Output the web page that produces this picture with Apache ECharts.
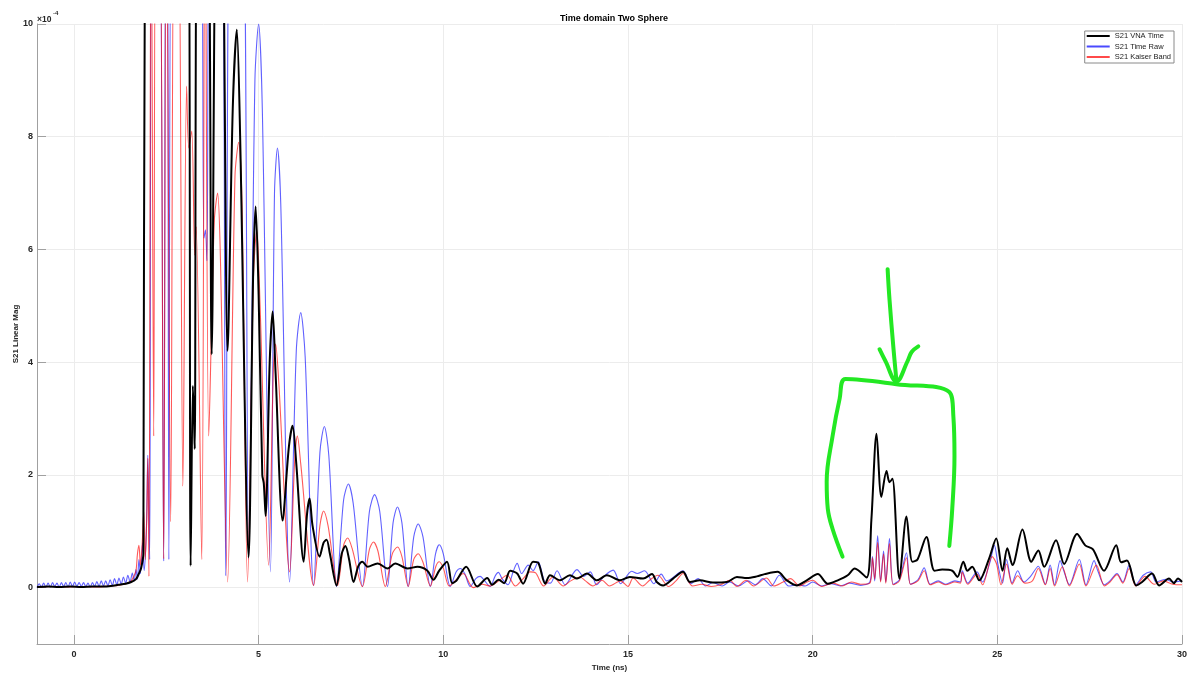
<!DOCTYPE html>
<html>
<head>
<meta charset="utf-8">
<script src="https://cdn.jsdelivr.net/npm/echarts@6/dist/echarts.min.js"></script>
<style>html,body{margin:0;padding:0;background:#fff}#c{width:1200px;height:682px}</style>
</head>
<body>
<div id="c"></div>
<script>
// values in units of 1e-4
const xTicks = [0, 5, 10, 15, 20, 25, 30];
const yTicks = [0, 2, 4, 6, 8, 10];
const seriesNames = ['S21 VNA Time', 'S21 Time Raw', 'S21 Kaiser Band'];

const vnaT = [-1.0,-0.7,-0.4,-0.1,0.2,0.5,0.8,1.0,1.2,1.4,1.55,1.68,1.76,1.82,1.88,1.93,3.08,3.16,3.22,3.25,3.27,3.36,3.60,3.73,3.87,3.99,4.16,4.30,4.41,4.50,4.73,4.85,4.92,5.0,5.10,5.14,5.19,5.30,5.38,5.46,5.65,5.82,5.92,6.02,6.22,6.31,6.38,6.46,6.65,6.76,6.84,6.93,7.11,7.25,7.35,7.45,7.57,7.70,7.81,7.95,8.22,8.49,8.70,9.03,9.30,9.57,9.73,9.89,10.10,10.24,10.35,10.62,10.92,11.19,11.32,11.50,11.65,11.81,12.00,12.16,12.43,12.57,12.76,12.89,13.16,13.43,13.62,13.89,14.16,14.43,14.78,15.05,15.41,15.65,15.78,15.95,16.22,16.49,16.68,16.95,17.30,17.68,17.95,18.22,18.49,18.70,19.05,19.30,19.57,19.84,20.14,20.41,20.68,20.95,21.14,21.46,21.59,21.73,21.86,22.00,22.08,22.16,22.35,22.54,22.70,22.84,23.08,23.30,23.51,23.78,23.92,24.08,24.19,24.32,24.51,24.78,24.97,25.14,25.27,25.41,25.68,25.92,26.11,26.27,26.59,26.81,27.16,27.38,27.59,27.89,28.22,28.35,28.51,28.76,28.92,29.19,29.38,29.65,29.78,29.89,30.00];
const vnaV = [0.01,0.02,0.01,0.02,0.01,0.02,0.02,0.03,0.05,0.07,0.10,0.15,0.25,0.35,0.6,13,13,0.39,3.58,3.0,2.46,13,13,4.14,13,13,4.2,8.5,9.9,8.0,0.54,5.5,6.76,5.2,2.0,1.85,1.27,4.0,4.9,3.8,1.19,2.5,2.87,2.2,0.46,1.3,1.58,1.1,0.55,0.8,0.85,0.6,0.04,0.6,0.74,0.5,0.1,0.38,0.46,0.37,0.43,0.34,0.43,0.34,0.37,0.30,0.14,0.30,0.46,0.08,0.12,0.37,0.02,0.17,0.05,0.14,0.08,0.30,0.25,0.07,0.46,0.44,0.07,0.22,0.13,0.22,0.16,0.25,0.13,0.22,0.13,0.19,0.16,0.24,0.10,0.04,0.16,0.28,0.10,0.13,0.09,0.10,0.19,0.17,0.20,0.24,0.28,0.13,0.04,0.13,0.24,0.07,0.13,0.22,0.34,0.18,1.2,2.73,1.61,2.07,1.87,1.93,0.16,1.26,0.46,0.50,0.90,0.30,0.32,0.30,0.19,0.46,0.30,0.37,0.13,0.52,0.87,0.30,0.70,0.40,1.03,0.46,0.66,0.37,0.84,0.42,0.95,0.75,0.68,0.30,0.75,0.45,0.48,0.04,0.10,0.25,0.04,0.16,0.08,0.16,0.10];

const rawT = [-1.00,-0.94,-0.88,-0.82,-0.76,-0.70,-0.64,-0.58,-0.52,-0.46,-0.40,-0.34,-0.28,-0.22,-0.16,-0.10,-0.04,0.02,0.08,0.14,0.20,0.26,0.32,0.38,0.44,0.50,0.56,0.62,0.68,0.74,0.80,0.86,0.92,0.98,1.04,1.10,1.16,1.22,1.28,1.34,1.40,1.46,1.52,1.58,1.63,1.68,1.72,1.76,1.80,1.86,1.90,1.96,2.00,2.05,2.12,2.30,2.43,2.49,2.53,2.57,2.66,3.40,3.52,3.56,3.60,3.70,3.98,4.11,4.25,4.55,4.73,4.90,5.00,5.10,5.32,5.43,5.51,5.60,5.84,6.02,6.14,6.26,6.49,6.66,6.78,6.90,7.11,7.30,7.43,7.56,7.81,8.00,8.14,8.28,8.49,8.64,8.76,8.88,9.05,9.20,9.32,9.45,9.65,9.79,9.89,10.00,10.19,10.35,10.46,10.58,10.73,10.88,11.00,11.12,11.27,11.40,11.49,11.60,11.75,11.90,12.00,12.12,12.30,12.43,12.57,12.75,12.90,13.08,13.30,13.62,13.80,13.98,14.15,14.35,14.60,14.80,15.10,15.25,15.45,15.70,15.90,16.05,16.49,16.70,16.90,17.10,17.30,17.55,17.75,18.00,18.25,18.45,18.65,18.88,19.10,19.35,19.60,19.80,20.00,20.25,20.50,20.75,21.00,21.30,21.55,21.62,21.68,21.76,21.84,21.92,21.98,22.08,22.18,22.35,22.54,22.65,22.85,23.02,23.18,23.40,23.60,23.85,24.00,24.05,24.20,24.45,24.60,24.80,24.92,25.02,25.14,25.25,25.40,25.55,25.72,25.90,26.11,26.30,26.43,26.55,26.70,26.80,26.95,27.22,27.40,27.62,27.72,27.90,28.05,28.24,28.40,28.57,28.75,28.95,29.15,29.30,29.55,29.75,30.00];
const rawV = [0.00,0.07,0.01,0.08,0.01,0.08,0.01,0.09,0.02,0.08,0.01,0.09,0.02,0.09,0.01,0.10,0.02,0.10,0.02,0.09,0.02,0.09,0.02,0.08,0.01,0.09,0.02,0.11,0.02,0.12,0.03,0.12,0.03,0.14,0.04,0.16,0.05,0.17,0.06,0.19,0.08,0.22,0.10,0.26,0.12,0.32,0.15,0.5,0.25,0.8,0.3,1.0,2.35,0.5,13,13,0.47,13,13,0.5,13,13,6.2,6.35,5.8,13,13,0.21,13,13,0.5,9.0,10.0,8.5,0.28,7.0,7.8,6.8,0.10,4.2,4.88,4.1,0.04,2.4,2.86,2.35,0.02,1.55,1.84,1.5,0.02,1.35,1.65,1.35,0.02,1.15,1.43,1.15,0.02,0.9,1.13,0.9,0.02,0.6,0.76,0.6,0.02,0.28,0.34,0.25,0.02,0.16,0.20,0.12,0.02,0.20,0.27,0.15,0.05,0.30,0.43,0.25,0.40,0.30,0.46,0.10,0.08,0.30,0.05,0.32,0.20,0.28,0.05,0.20,0.31,0.07,0.29,0.25,0.30,0.07,0.24,0.12,0.30,0.07,0.16,0.03,0.09,0.03,0.10,0.03,0.12,0.05,0.16,0.03,0.22,0.03,0.05,0.03,0.10,0.03,0.07,0.03,0.08,0.04,0.10,0.55,0.12,0.92,0.12,0.65,0.10,0.87,0.06,0.14,0.62,0.06,0.14,0.35,0.06,0.12,0.06,0.12,0.10,0.30,0.08,0.28,0.10,0.45,0.75,0.40,0.08,0.50,0.08,0.30,0.10,0.20,0.38,0.06,0.40,0.05,0.48,0.30,0.05,0.50,0.05,0.48,0.30,0.05,0.12,0.25,0.10,0.40,0.05,0.22,0.28,0.10,0.15,0.10,0.12];

const kaiT = [-1.0,-0.6,-0.2,0.2,0.6,1.0,1.2,1.35,1.45,1.55,1.62,1.68,1.72,1.76,1.80,1.85,1.89,1.93,1.97,2.00,2.03,2.09,2.16,2.22,2.32,2.43,2.50,2.62,2.72,2.82,2.95,3.05,3.11,3.19,3.27,3.31,3.46,3.55,3.65,3.80,3.89,3.96,4.16,4.36,4.46,4.55,4.70,4.86,4.95,5.04,5.27,5.40,5.46,5.55,5.84,5.98,6.05,6.14,6.49,6.66,6.76,6.88,7.14,7.30,7.41,7.53,7.81,8.00,8.11,8.23,8.43,8.62,8.76,8.88,9.05,9.20,9.32,9.45,9.65,9.80,9.89,10.00,10.16,10.38,10.54,10.81,11.05,11.27,11.50,11.73,11.95,12.15,12.35,12.50,12.72,12.97,13.25,13.45,13.70,13.85,14.05,14.30,14.50,14.80,15.00,15.14,15.40,15.60,15.81,16.10,16.30,16.49,16.75,17.00,17.25,17.50,17.76,17.95,18.20,18.40,18.75,18.95,19.20,19.40,19.65,19.85,20.00,20.25,20.55,20.80,21.05,21.30,21.55,21.62,21.68,21.76,21.84,21.92,21.98,22.08,22.18,22.35,22.54,22.65,22.85,23.02,23.18,23.40,23.60,23.85,24.00,24.05,24.20,24.45,24.60,24.86,24.98,25.10,25.25,25.40,25.55,25.75,25.95,26.11,26.30,26.43,26.55,26.76,26.95,27.22,27.40,27.68,27.90,28.05,28.24,28.40,28.57,28.75,29.00,29.25,29.50,29.75,30.00];
const kaiV = [0.01,0.02,0.01,0.02,0.01,0.03,0.04,0.06,0.08,0.12,0.2,0.3,0.6,0.75,0.4,0.8,1.35,0.5,1.2,2.3,0.2,13,2.69,13,13,0.51,13,1.17,13,13,1.8,8.9,7.8,8.1,5.9,6.4,0.5,13,2.69,6.5,7.0,6.0,0.1,7.3,7.9,6.8,0.1,5.5,6.35,5.0,0.4,3.9,4.32,3.6,0.28,2.3,2.69,2.2,0.04,1.1,1.36,1.1,0.04,0.75,0.88,0.7,0.02,0.68,0.81,0.65,0.02,0.6,0.72,0.55,0.02,0.5,0.60,0.45,0.03,0.38,0.46,0.35,0.03,0.16,0.25,0.0,0.06,0.03,0.12,0.22,0.03,0.15,0.28,0.26,0.03,0.19,0.03,0.12,0.19,0.12,0.03,0.13,0.03,0.12,0.02,0.17,0.03,0.14,0.22,0.02,0.12,0.25,0.03,0.06,0.02,0.05,0.13,0.02,0.13,0.03,0.17,0.03,0.10,0.16,0.03,0.10,0.13,0.02,0.08,0.03,0.10,0.06,0.08,0.53,0.15,0.80,0.1,0.60,0.08,0.78,0.05,0.12,0.53,0.06,0.12,0.30,0.05,0.10,0.05,0.10,0.08,0.27,0.06,0.24,0.05,0.55,0.42,0.05,0.42,0.06,0.21,0.08,0.12,0.34,0.05,0.34,0.03,0.37,0.03,0.42,0.03,0.40,0.03,0.10,0.23,0.08,0.34,0.03,0.20,0.06,0.12,0.06,0.05];

// hand-drawn green annotation (data coordinates)
const bracketT = [20.81,20.54,20.41,20.38,20.54,20.73,20.89,22.27,23.70,23.81,23.84,23.78,23.70];
const bracketV = [0.55,1.04,1.40,1.88,2.69,3.35,3.70,3.61,3.47,3.04,2.34,1.40,0.74];
const shaftT = [22.03,22.08,22.19,22.27];
const shaftV = [5.65,5.12,4.23,3.66];
const headT = [21.81,21.97,22.27,22.57,22.68,22.86];
const headV = [4.23,4.02,3.66,4.02,4.18,4.28];

const pairs = (t, v) => t.map((x, i) => [x, v[i]]);
const FONT = 'Liberation Sans';
const chart = echarts.init(document.getElementById('c'));
const lineSeries = (name, t, v, color, width, z, smooth) => ({
  name, type: 'line', data: pairs(t, v), symbol: 'none', showSymbol: false,
  smooth: smooth, clip: true, z,
  lineStyle: { color, width }, itemStyle: { color },
  emphasis: { disabled: true }, animation: false
});
const green = 'rgb(35,232,35)';
const greenSeries = (t, v) => ({
  type: 'line', data: pairs(t, v), symbol: 'none', smooth: 0.4, z: 10, silent: true,
  lineStyle: { color: green, width: 4, cap: 'round', join: 'round' }, itemStyle: { color: green },
  emphasis: { disabled: true }
});

chart.setOption({
  animation: false,
  backgroundColor: '#fff',
  title: {
    text: 'Time domain Two Sphere', left: 609, top: 9, textAlign: 'center',
    textStyle: { fontFamily: FONT, fontSize: 9, fontWeight: 'bold', color: '#000' }
  },
  legend: {
    data: [
      { name: seriesNames[0], icon: 'rect', itemStyle: { color: '#000' } },
      { name: seriesNames[1], icon: 'rect', itemStyle: { color: '#4a4aff' } },
      { name: seriesNames[2], icon: 'rect', itemStyle: { color: '#ff4a4a' } }
    ],
    orient: 'vertical', right: 26, top: 31, itemWidth: 23, itemHeight: 2, itemGap: 2.5,
    padding: [1, 3, 2, 2], borderColor: '#8a8a8a', borderWidth: 1, backgroundColor: '#fff',
    textStyle: { fontFamily: FONT, fontSize: 7.5, color: '#222' }, selectedMode: false
  },
  graphic: [
    { type: 'text', x: 37, y: 15, style: { text: '×10', font: 'bold 8.5px "Liberation Sans"', fill: '#262626' } },
    { type: 'text', x: 53, y: 10, style: { text: '-4', font: 'bold 6px "Liberation Sans"', fill: '#262626' } }
  ],
  grid: { left: 37, right: 18, top: 24, bottom: 38, containLabel: false, outerBoundsMode: 'none' },
  xAxis: {
    type: 'value', min: -1, max: 30,
    name: 'Time (ns)', nameLocation: 'middle', nameGap: 20, nameMoveOverlap: false,
    nameTextStyle: { fontFamily: FONT, fontSize: 8, fontWeight: 'bold', color: '#262626' },
    axisLine: { show: true, onZero: false, lineStyle: { color: '#a0a0a0', width: 1 } },
    axisTick: { show: true, inside: true, length: 9, customValues: xTicks, lineStyle: { color: '#a0a0a0' } },
    axisLabel: { customValues: xTicks, margin: 6, fontFamily: FONT, fontSize: 9, fontWeight: 'bold', color: '#262626' },
    splitLine: { show: true, lineStyle: { color: '#ececec', width: 1 } }
  },
  yAxis: {
    type: 'value', min: -1, max: 10,
    name: 'S21 Linear Mag', nameLocation: 'middle', nameGap: 17, nameMoveOverlap: false,
    nameTextStyle: { fontFamily: FONT, fontSize: 8, fontWeight: 'bold', color: '#262626' },
    axisLine: { show: true, onZero: false, lineStyle: { color: '#a0a0a0', width: 1 } },
    axisTick: { show: true, inside: true, length: 9, customValues: yTicks, lineStyle: { color: '#a0a0a0' } },
    axisLabel: { customValues: yTicks, margin: 4, fontFamily: FONT, fontSize: 9, fontWeight: 'bold', color: '#262626' },
    splitLine: { show: true, lineStyle: { color: '#ececec', width: 1 } }
  },
  series: [
    lineSeries(seriesNames[1], rawT, rawV, 'rgba(0,0,255,0.62)', 1.1, 2, 0.3),
    lineSeries(seriesNames[2], kaiT, kaiV, 'rgba(255,0,0,0.65)', 1.1, 3, 0.3),
    lineSeries(seriesNames[0], vnaT, vnaV, '#000', 2, 4, 0.3),
    greenSeries(bracketT, bracketV),
    greenSeries(shaftT, shaftV),
    greenSeries(headT, headV)
  ]
});
</script>
</body>
</html>
